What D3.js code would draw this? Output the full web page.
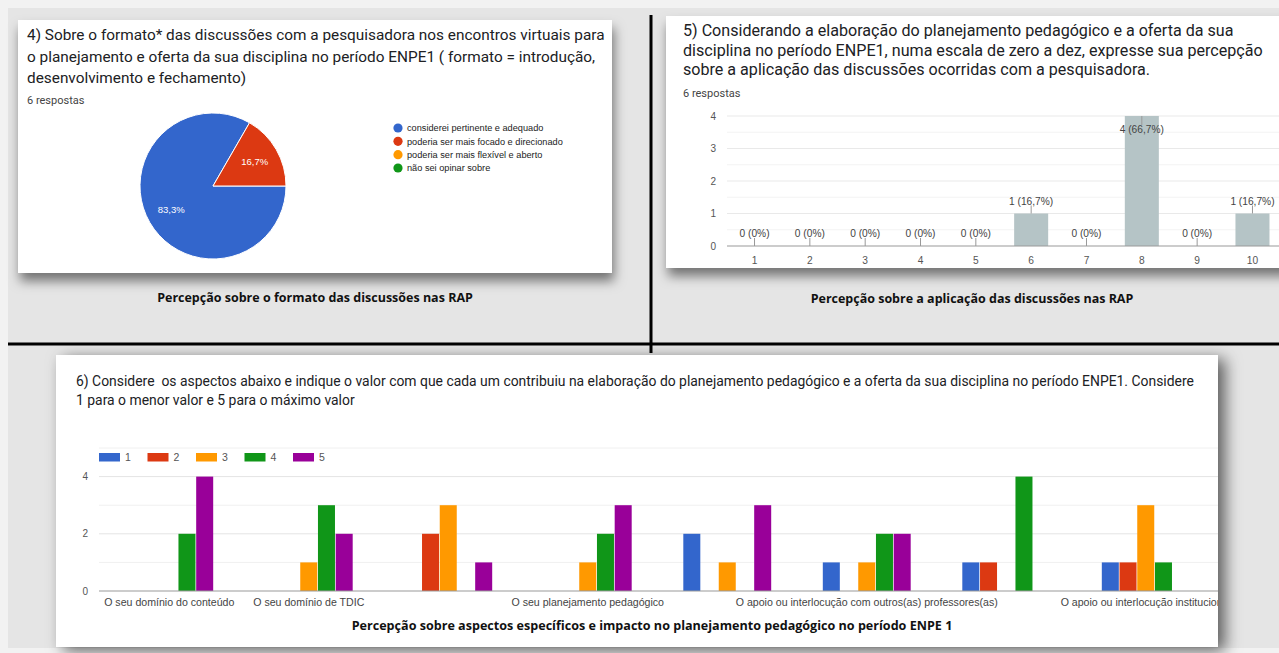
<!DOCTYPE html>
<html><head><meta charset="utf-8">
<script src="https://cdn.jsdelivr.net/npm/d3@7"></script>
<style>
body{margin:0;background:#f2f2f2;}
svg{display:block;}
</style>
</head><body><svg id="c" width="1279" height="653"></svg>
<script>
// ---------- DATA ----------
const pieLabels = ["considerei pertinente e adequado","poderia ser mais focado e direcionado","poderia ser mais flexível e aberto","não sei opinar sobre"];
const pieValues = [5,1,0,0];
const pieColors = ["#3366cc","#dc3912","#ff9900","#109618"];

const scaleCats = ["1","2","3","4","5","6","7","8","9","10"];
const scaleCounts = [0,0,0,0,0,1,0,4,0,1];
const scaleYTicks = [0,1,2,3,4];

const aspectCats = ["O seu domínio do conteúdo","O seu domínio de TDIC","","O seu planejamento pedagógico","","O apoio ou interlocução com outros(as) professores(as)","","O apoio ou interlocução institucional"];
const ratingKeys = ["1","2","3","4","5"];
const rating1 = [0,0,0,0,2,1,1,1];
const rating2 = [0,0,2,0,0,0,1,1];
const rating3 = [0,1,3,1,1,1,0,3];
const rating4 = [2,3,0,2,0,2,4,1];
const rating5 = [4,2,1,3,3,2,0,0];
const ratingColors = ["#3366cc","#dc3912","#ff9900","#109618","#990099"];
const aspectYTicks = [0,2,4];

const title4 = ["4) Sobre o formato* das discussões com a pesquisadora nos encontros virtuais para","o planejamento e oferta da sua disciplina no período ENPE1 ( formato = introdução,","desenvolvimento e fechamento)"];
const title5 = ["5) Considerando a elaboração do planejamento pedagógico e a oferta da sua","disciplina no período ENPE1, numa escala de zero a dez, expresse sua percepção","sobre a aplicação das discussões ocorridas com a pesquisadora."];
const title6 = ["6) Considere  os aspectos abaixo e indique o valor com que cada um contribuiu na elaboração do planejamento pedagógico e a oferta da sua disciplina no período ENPE1. Considere","1 para o menor valor e 5 para o máximo valor"];
const respostas = "6 respostas";
const caption1 = "Percepção sobre o formato das discussões nas RAP";
const caption2 = "Percepção sobre a aplicação das discussões nas RAP";
const caption3 = "Percepção sobre aspectos específicos e impacto no planejamento pedagógico no período ENPE 1";

// ---------- HELPERS ----------
const loc = d3.formatLocale({decimal:",", thousands:".", grouping:[3], currency:["",""]});
const pct1 = loc.format(".1f");
const pctT = loc.format(".1~f");
const svg = d3.select("#c");
const FONT = "Roboto, Arial, sans-serif";
const ARIAL = "'Liberation Sans', Arial, sans-serif";
const CAPF = "'Open Sans', 'Noto Sans', sans-serif";

function block(g, lines, x, y0, lh, fs, target){
  const t = g.selectAll(null).data(lines).join("text")
    .attr("x", x).attr("y", (d,i)=>y0+i*lh)
    .attr("font-family", FONT).attr("font-size", fs).attr("fill", "#202124")
    .style("white-space","pre").text(d=>d);
  let w = 0; t.each(function(){ w = Math.max(w, this.getComputedTextLength()); });
  t.attr("font-size", fs*target/w);
  return t;
}
function caption(g, txt, cx, y, target){
  const t = g.append("text").attr("x", cx).attr("y", y).attr("text-anchor","middle")
    .attr("font-family", CAPF).attr("font-weight", 700).attr("font-size", 12).attr("fill","#111").text(txt);
  const w = t.node().getComputedTextLength();
  t.attr("font-size", 12*target/w);
}

// ---------- BACKGROUND ----------
const defs = svg.append("defs");
const f = defs.append("filter").attr("id","sh").attr("x","-10%").attr("y","-20%").attr("width","130%").attr("height","150%");
f.append("feDropShadow").attr("dx",2).attr("dy",8).attr("stdDeviation",6).attr("flood-color","#000").attr("flood-opacity",0.5);
const f2 = defs.append("filter").attr("id","sh2").attr("x","-10%").attr("y","-20%").attr("width","130%").attr("height","150%");
f2.append("feDropShadow").attr("dx",7).attr("dy",4).attr("stdDeviation",8).attr("flood-color","#000").attr("flood-opacity",0.6);

svg.append("rect").attr("x",0).attr("y",0).attr("width",1279).attr("height",653).attr("fill","#f2f2f2");
svg.append("rect").attr("x",8).attr("y",8).attr("width",1271).attr("height",640).attr("fill","#e5e5e5");

// cards
svg.append("rect").attr("x",18).attr("y",20).attr("width",594).attr("height",253).attr("fill","#fff").attr("filter","url(#sh)");
svg.append("rect").attr("x",666).attr("y",16).attr("width",640).attr("height",252).attr("fill","#fff").attr("filter","url(#sh)");
svg.append("rect").attr("x",56).attr("y",355).attr("width",1162).attr("height",292).attr("fill","#fff").attr("filter","url(#sh2)");

// separators
svg.append("line").attr("x1",651).attr("x2",651).attr("y1",15).attr("y2",353).attr("stroke","#000").attr("stroke-width",3);
svg.append("line").attr("x1",8).attr("x2",1279).attr("y1",344).attr("y2",344).attr("stroke","#000").attr("stroke-width",3);

// ---------- PANEL 4: PIE ----------
const g1 = svg.append("g");
block(g1, title4, 27, 40, 21.5, 15, 578);
g1.append("text").attr("x",27).attr("y",104).attr("font-family",FONT).attr("font-size",11).attr("fill","#444").text(respostas);

const total4 = d3.sum(pieValues);
const pie = d3.pie().sort(null).startAngle(Math.PI/2).endAngle(Math.PI/2+2*Math.PI);
const arcs = pie(pieValues);
const R = 73;
const arc = d3.arc().innerRadius(0).outerRadius(R);
const pg = g1.append("g").attr("transform","translate(213,186)");
pg.selectAll("path").data(arcs.filter(d=>d.value>0)).join("path")
  .attr("d", arc).attr("fill", d=>pieColors[d.index]).attr("stroke","#fff").attr("stroke-width",1);
const lab = d3.arc().innerRadius(R*0.66).outerRadius(R*0.66);
pg.selectAll("text").data(arcs.filter(d=>d.value>0)).join("text")
  .attr("transform", d=>`translate(${lab.centroid(d)})`).attr("text-anchor","middle").attr("dy","0.35em")
  .attr("font-family",ARIAL).attr("font-size",9.5).attr("fill","#fff")
  .text(d=>pct1(d.value/total4*100)+"%");
const lg = g1.append("g");
const ly = d3.scalePoint().domain(d3.range(pieLabels.length)).range([128,168]);
lg.selectAll("circle").data(pieLabels).join("circle").attr("cx",398).attr("cy",(d,i)=>ly(i)).attr("r",4.6).attr("fill",(d,i)=>pieColors[i]);
lg.selectAll("text").data(pieLabels).join("text").attr("x",407).attr("y",(d,i)=>ly(i)).attr("dy","0.35em")
  .attr("font-family",ARIAL).attr("font-size",9.2).attr("fill","#222").text(d=>d);
caption(svg, caption1, 315, 302, 316);

// ---------- PANEL 5: BAR ----------
const g2 = svg.append("g");
block(g2, title5, 683, 36, 19.5, 15, 580);
g2.append("text").attr("x",683).attr("y",97).attr("font-family",FONT).attr("font-size",11).attr("fill","#444").text(respostas);
const total5 = d3.sum(scaleCounts);
const x5 = d3.scaleBand().domain(scaleCats).range([727,1280]).paddingInner(0.385).paddingOuter(0.19);
const y5 = d3.scaleLinear().domain([0,4]).range([246,116]);
const minor5 = d3.range(0.5,4.01,0.5).filter(v=>v%1!==0);
g2.selectAll(".mn").data(minor5).join("line").attr("x1",727).attr("x2",1279).attr("y1",d=>y5(d)).attr("y2",d=>y5(d)).attr("stroke","#f3f3f3");
g2.selectAll(".mj").data(scaleYTicks.filter(v=>v>0)).join("line").attr("x1",727).attr("x2",1279).attr("y1",d=>y5(d)).attr("y2",d=>y5(d)).attr("stroke","#e9e9e9");
g2.selectAll(".yl").data(scaleYTicks).join("text").attr("x",716).attr("y",d=>y5(d)).attr("dy","0.35em").attr("text-anchor","end")
  .attr("font-family",ARIAL).attr("font-size",10).attr("fill","#555").text(d=>d);
g2.selectAll(".bar").data(scaleCats).join("rect")
  .attr("x",d=>x5(d)).attr("width",x5.bandwidth())
  .attr("y",(d,i)=>y5(scaleCounts[i])).attr("height",(d,i)=>y5(0)-y5(scaleCounts[i]))
  .attr("fill","#b5c4c6");
g2.append("line").attr("x1",727).attr("x2",1279).attr("y1",y5(0)).attr("y2",y5(0)).attr("stroke","#999").attr("stroke-width",1.2);
g2.selectAll(".xl").data(scaleCats).join("text").attr("x",d=>x5(d)+x5.bandwidth()/2).attr("y",264).attr("text-anchor","middle")
  .attr("font-family",ARIAL).attr("font-size",10.2).attr("fill","#555").text(d=>d);
// annotations
scaleCats.forEach((c,i)=>{
  const v = scaleCounts[i], cx = x5(c)+x5.bandwidth()/2, top = y5(v);
  const txt = `${v} (${pctT(v/total5*100)}%)`;
  const inside = top - 20 < y5(4) + 2;
  let s1, s2, ty;
  if(inside){ s1 = top; s2 = top+9; ty = top+16.5; }
  else { s1 = top; s2 = top-8; ty = top-9; }
  g2.append("line").attr("x1",cx).attr("x2",cx).attr("y1",s1).attr("y2",s2).attr("stroke","#999");
  g2.append("text").attr("x",cx).attr("y",ty).attr("text-anchor","middle").attr("font-family",ARIAL).attr("font-size",10.2).attr("fill","#444").text(txt);
});
caption(svg, caption2, 972, 303, 323);

// ---------- PANEL 6: GROUPED BARS ----------
const g3 = svg.append("g");
defs.append("clipPath").attr("id","cl3").append("rect").attr("x",56).attr("y",355).attr("width",1162).attr("height",292);
block(g3, title6, 76, 386, 18.5, 13, 1119);
const series = [rating1, rating2, rating3, rating4, rating5];
const x6 = d3.scaleBand().domain(d3.range(aspectCats.length)).range([99.5,1215.5]).paddingInner(0.37).paddingOuter(0.185);
const x6i = d3.scaleBand().domain(ratingKeys).range([0,x6.bandwidth()]).paddingInner(0.04);
const y6 = d3.scaleLinear().domain([0,5]).range([591,448]);
const pl = g3.append("g").attr("clip-path","url(#cl3)");
pl.selectAll(".g6").data(d3.range(1,6)).join("line").attr("x1",99).attr("x2",1218).attr("y1",d=>y6(d)).attr("y2",d=>y6(d))
  .attr("stroke",d=>d%2===0?"#e4e4e4":"#f0f0f0");
pl.selectAll(".yl6").data(aspectYTicks).join("text").attr("x",88).attr("y",d=>y6(d)).attr("dy","0.35em").attr("text-anchor","end")
  .attr("font-family",ARIAL).attr("font-size",10).attr("fill","#555").text(d=>d);
const grp = pl.selectAll(".grp").data(d3.range(aspectCats.length)).join("g").attr("transform",i=>`translate(${x6(i)},0)`);
grp.selectAll("rect").data(i=>series.map((s,k)=>({k, v:s[i]})).filter(d=>d.v>0)).join("rect")
  .attr("x",d=>x6i(ratingKeys[d.k])).attr("width",x6i.bandwidth())
  .attr("y",d=>y6(d.v)).attr("height",d=>y6(0)-y6(d.v)).attr("fill",d=>ratingColors[d.k]);
pl.append("line").attr("x1",99).attr("x2",1218).attr("y1",y6(0)).attr("y2",y6(0)).attr("stroke","#999").attr("stroke-width",1.2);
pl.selectAll(".xl6").data(d3.range(aspectCats.length)).join("text").attr("x",i=>x6(i)+x6.bandwidth()/2).attr("y",606).attr("text-anchor","middle")
  .attr("font-family",ARIAL).attr("font-size",10.6).attr("fill","#444").text(i=>aspectCats[i]);
// legend
const lx = d3.scaleLinear().domain([0,4]).range([99,293]);
const leg = g3.append("g");
leg.selectAll("rect").data(ratingKeys).join("rect").attr("x",(d,i)=>lx(i)).attr("y",453).attr("width",21).attr("height",8.5).attr("fill",(d,i)=>ratingColors[i]);
leg.selectAll("text").data(ratingKeys).join("text").attr("x",(d,i)=>lx(i)+26).attr("y",457.5).attr("dy","0.35em")
  .attr("font-family",ARIAL).attr("font-size",10.5).attr("fill","#555").text(d=>d);
caption(svg, caption3, 652, 630, 601);
</script></body></html>
